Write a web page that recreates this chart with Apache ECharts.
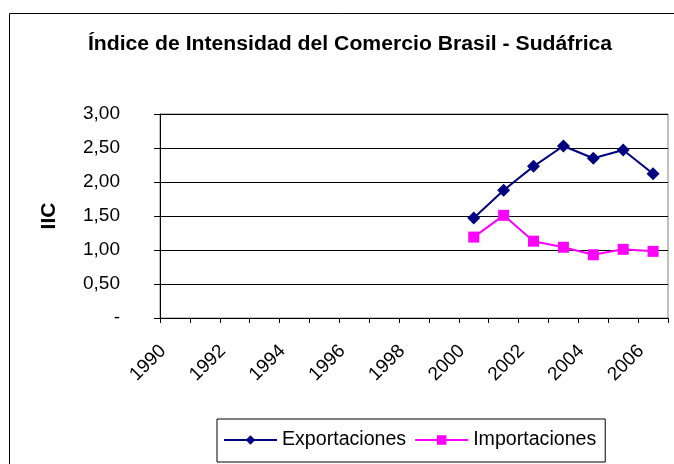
<!DOCTYPE html>
<html>
<head>
<meta charset="utf-8">
<script src="https://cdn.jsdelivr.net/npm/echarts@6/dist/echarts.min.js"></script>
<style>
  html, body { margin: 0; padding: 0; background: #fff; }
  #main { width: 674px; height: 464px; }
</style>
</head>
<body>
<div id="main"></div>
<script>
  // años del eje X
  var years = ['1990', '1991', '1992', '1993', '1994', '1995', '1996', '1997', '1998',
    '1999', '2000', '2001', '2002', '2003', '2004', '2005', '2006'];
  // IIC exportaciones / importaciones (sin datos antes de 2000)
  var exportaciones = [null, null, null, null, null, null, null, null, null, null,
    1.47, 1.88, 2.23, 2.53, 2.35, 2.47, 2.12];
  var importaciones = [null, null, null, null, null, null, null, null, null, null,
    1.19, 1.51, 1.13, 1.04, 0.93, 1.01, 0.98];
  var yTicks = [0, 0.5, 1, 1.5, 2, 2.5, 3];

  var font = 'Liberation Sans, Arial, sans-serif';
  var myChart = echarts.init(document.getElementById('main'));

  myChart.setOption({
    animation: false,
    textStyle: { fontFamily: font },
    graphic: [{
      type: 'rect',
      shape: { x: 9.5, y: 13.5, width: 700, height: 500 },
      style: { fill: 'none', stroke: '#000', lineWidth: 1 },
      silent: true,
      z: -1
    }, {
      // titulo (un poco ensanchado como en el original)
      type: 'text',
      x: 350,
      y: 44,
      scaleX: 1.06,
      style: {
        text: 'Índice de Intensidad del Comercio Brasil - Sudáfrica',
        fontSize: 20,
        fontWeight: 'bold',
        fontFamily: font,
        fill: '#000',
        align: 'center',
        verticalAlign: 'middle'
      }
    }],
    legend: {
      left: 217,
      top: 419,
      padding: [11, 9, 12, 6],
      borderColor: '#000',
      borderWidth: 1,
      itemWidth: 53,
      itemHeight: 12,
      itemGap: 8,
      textStyle: { fontSize: 19.6, color: '#000', fontFamily: font },
      data: ['Exportaciones', 'Importaciones']
    },
    grid: [
      { left: 160, top: 114, width: 508, height: 204, show: true, borderColor: '#808080', borderWidth: 1 },
      // solo para las etiquetas del eje X (desplazadas como en Excel)
      { left: 148, top: 114, width: 508, height: 204 }
    ],
    xAxis: [{
      type: 'category',
      gridIndex: 0,
      data: years,
      boundaryGap: true,
      axisLine: { lineStyle: { color: '#000', width: 1 } },
      axisTick: { show: true, interval: 0, length: 5, lineStyle: { color: '#000' } },
      axisLabel: { show: false }
    }, {
      type: 'category',
      gridIndex: 1,
      data: years,
      boundaryGap: true,
      axisLine: { show: false },
      axisTick: { show: false },
      axisLabel: {
        interval: 1,
        rotate: 45,
        margin: 30,
        fontSize: 19,
        color: '#000',
        fontFamily: font
      }
    }],
    yAxis: [{
      type: 'value',
      gridIndex: 0,
      min: yTicks[0],
      max: yTicks[yTicks.length - 1],
      interval: 0.5,
      name: 'IIC',
      nameLocation: 'middle',
      nameGap: 100,
      nameRotate: 90,
      nameTextStyle: { fontSize: 21, fontWeight: 'bold', color: '#000', fontFamily: font },
      axisLine: { show: true, lineStyle: { color: '#000', width: 1 } },
      axisTick: { show: true, length: 6, lineStyle: { color: '#000' } },
      axisLabel: {
        margin: 40,
        fontSize: 19,
        color: '#000',
        fontFamily: font,
        formatter: function (v) {
          return v === 0 ? '-' : v.toFixed(2).replace('.', ',');
        }
      },
      splitLine: { show: true, lineStyle: { color: '#000', width: 1 } }
    }, {
      type: 'value',
      gridIndex: 1,
      show: false
    }],
    series: [{
      name: 'Exportaciones',
      type: 'line',
      xAxisIndex: 0,
      yAxisIndex: 0,
      data: exportaciones,
      symbol: 'diamond',
      symbolSize: 13,
      color: '#000080',
      lineStyle: { width: 2, color: '#000080' },
      itemStyle: { color: '#000080' }
    }, {
      name: 'Importaciones',
      type: 'line',
      xAxisIndex: 0,
      yAxisIndex: 0,
      data: importaciones,
      symbol: 'rect',
      symbolSize: 11,
      color: '#FF00FF',
      lineStyle: { width: 2, color: '#FF00FF' },
      itemStyle: { color: '#FF00FF' }
    }]
  });
</script>
</body>
</html>
